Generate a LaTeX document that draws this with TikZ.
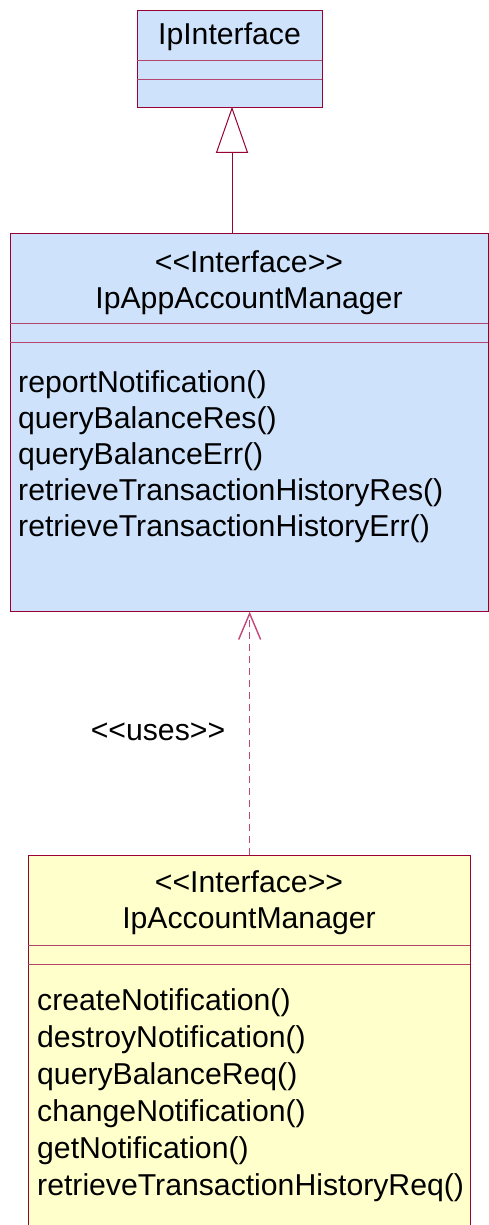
\documentclass[tikz,border=0pt]{standalone}
\usepackage{fontspec}
\setmainfont{Liberation Sans}
\usetikzlibrary{arrows.meta}
\definecolor{umlblue}{RGB}{206,226,251}
\definecolor{umlyellow}{RGB}{255,255,204}
\definecolor{umlborder}{RGB}{153,0,51}
\definecolor{umlsep}{RGB}{180,70,110}
\definecolor{umldash}{RGB}{196,70,120}
\begin{document}
\begin{tikzpicture}[x=1pt,y=-1pt,
  classbox/.style={draw=umlborder,line width=1.3pt,rectangle,inner sep=0pt,anchor=north west},
  sepline/.style={draw=umlsep,line width=1pt},
  txt/.style={inner sep=0pt,font=\fontsize{30.2}{36.7}\selectfont},
  inherit/.style={draw=umlborder,line width=1pt,shorten >=-1.5pt,-{Triangle[length=46pt,width=32pt,fill=white]}},
  uses/.style={draw=umldash,line width=1.4pt,dash pattern=on 7pt off 5pt,shorten >=-0.6pt,-{Straight Barb[length=26pt,width=22pt]}}]
\clip (0,0) rectangle (489,1225);
\fill[white] (0,0) rectangle (489,1225);
% top class
\node[classbox,fill=umlblue,minimum width=185pt,minimum height=97pt] (top) at (137,10) {};
\draw[sepline] (137,61) -- (322,61);
\draw[sepline] (137,80) -- (322,80);
\node[txt,anchor=base] (topname) at (229.5,45) {IpInterface};
% middle class
\node[classbox,fill=umlblue,minimum width=478pt,minimum height=378pt] (mid) at (10,233) {};
\draw[sepline] (10,323) -- (488,323);
\draw[sepline] (10,342) -- (488,342);
\node[txt,anchor=base] (midster) at (249,272) {<{}<Interface>{}>};
\node[txt,anchor=base] (midname) at (249,308) {IpAppAccountManager};
\node[txt,anchor=base west] (m1) at (18,392) {reportNotification()};
\node[txt,anchor=base west] (m2) at (18,428) {queryBalanceRes()};
\node[txt,anchor=base west] (m3) at (18,464) {queryBalanceErr()};
\node[txt,anchor=base west] (m4) at (18,500) {retrieveTransactionHistoryRes()};
\node[txt,anchor=base west] (m5) at (18,536) {retrieveTransactionHistoryErr()};
% bottom class
\node[classbox,fill=umlyellow,minimum width=442pt,minimum height=400pt] (bot) at (28,855) {};
\draw[sepline] (28,945) -- (470,945);
\draw[sepline] (28,964) -- (470,964);
\node[txt,anchor=base] (botster) at (249,892) {<{}<Interface>{}>};
\node[txt,anchor=base] (botname) at (249,928) {IpAccountManager};
\node[txt,anchor=base west] (b1) at (37,1010) {createNotification()};
\node[txt,anchor=base west] (b2) at (37,1047) {destroyNotification()};
\node[txt,anchor=base west] (b3) at (37,1084) {queryBalanceReq()};
\node[txt,anchor=base west] (b4) at (37,1121) {changeNotification()};
\node[txt,anchor=base west] (b5) at (37,1158) {getNotification()};
\node[txt,anchor=base west] (b6) at (37,1195) {retrieveTransactionHistoryReq()};
% connectors
\coordinate (inhstart) at (232,233);
\draw[inherit] (inhstart) -- (inhstart |- top.south);
\draw[uses] (bot.north -| mid.south) -- (mid.south);
\node[txt,anchor=base] (useslbl) at (158,740) {<{}<uses>{}>};
\end{tikzpicture}
\end{document}
